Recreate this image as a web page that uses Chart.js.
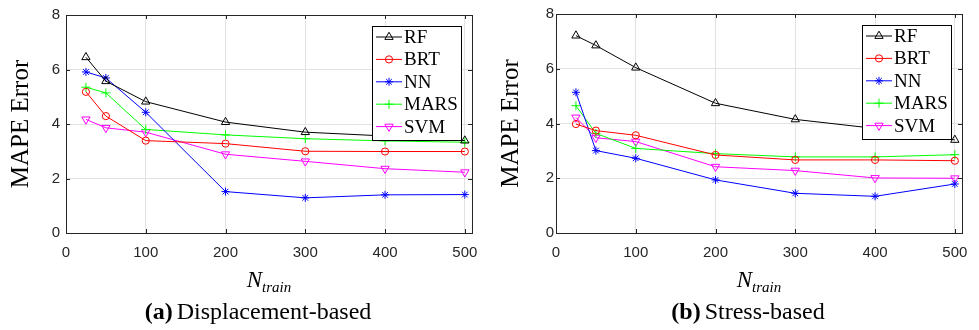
<!DOCTYPE html>
<html lang="en">
  <head>
    <meta charset="utf-8" />
    <title>MAPE Error vs N_train</title>
    <style>
      body { margin: 0; background: #fff; }
      .panel { position: absolute; top: 0; height: 330px; }
      #left { left: 0; width: 490px; }
      #right { left: 490px; width: 489px; }
    </style>
  </head>
  <body>
    <div class="panel" id="left"><canvas id="dispChart" width="490" height="330"></canvas></div>
    <div class="panel" id="right"><canvas id="stressChart" width="489" height="330"></canvas></div>
    <script src="https://cdn.jsdelivr.net/npm/chart.js@4.4.1/dist/chart.umd.min.js"></script>
    <script>
      var nTrain = [25, 50, 100, 200, 300, 400, 500];
      var xTicks = [0, 100, 200, 300, 400, 500];
      var yTicks = [0, 2, 4, 6, 8];
      var methods = ["RF", "BRT", "NN", "MARS", "SVM"];

      // (a) displacement-based surrogate errors
      var dispRF = [6.45, 5.57, 4.82, 4.07, 3.70, 3.56, 3.39];
      var dispBRT = [5.18, 4.29, 3.39, 3.28, 3.00, 2.99, 2.99];
      var dispNN = [5.91, 5.69, 4.43, 1.52, 1.29, 1.40, 1.41];
      var dispMARS = [5.35, 5.14, 3.80, 3.60, 3.46, 3.38, 3.33];
      var dispSVM = [4.17, 3.86, 3.70, 2.89, 2.63, 2.36, 2.23];

      // (b) stress-based surrogate errors
      var stressRF = [7.21, 6.85, 6.04, 4.74, 4.15, 3.82, 3.40];
      var stressBRT = [3.98, 3.74, 3.57, 2.85, 2.67, 2.67, 2.64];
      var stressNN = [5.14, 3.01, 2.73, 1.94, 1.45, 1.34, 1.79];
      var stressMARS = [4.65, 3.64, 3.09, 2.90, 2.78, 2.78, 2.86];
      var stressSVM = [4.22, 3.48, 3.34, 2.42, 2.28, 2.01, 2.00];

      var lineColors = ["#000000", "#ff0000", "#0000ff", "#00ff00", "#ff00ff"];
      var markers = ["triangle", "circle", "star", "cross", "triangle"];
      var markerRotation = [0, 0, 0, 0, 180];
      var markerSize = [4.8, 3.6, 4, 4.5, 4.8];

      var serif = "'Liberation Serif', 'Times New Roman', serif";
      var sans = "'Liberation Sans', Arial, sans-serif";
      var axisColor = "#262626";

      function makeDatasets(series) {
        return series.map(function (values, i) {
          return {
            label: methods[i],
            data: values.map(function (v, k) { return { x: nTrain[k], y: v }; }),
            borderColor: lineColors[i],
            backgroundColor: "rgba(0,0,0,0)",
            borderWidth: 1,
            pointStyle: markers[i],
            pointRotation: markerRotation[i],
            pointRadius: markerSize[i],
            pointBorderWidth: 1,
            pointBackgroundColor: "rgba(0,0,0,0)",
            pointBorderColor: lineColors[i],
            tension: 0
          };
        });
      }

      // box, inward tick marks, legend and the text around each plot
      var decorations = {
        id: "decorations",
        afterDraw: function (chart, args, opts) {
          var ctx = chart.ctx;
          var a = chart.chartArea;
          var xs = chart.scales.x, ys = chart.scales.y;
          ctx.save();

          ctx.strokeStyle = axisColor;
          ctx.lineWidth = 1;
          ctx.strokeRect(Math.round(a.left) + 0.5, Math.round(a.top) + 0.5,
            Math.round(a.right - a.left), Math.round(a.bottom - a.top));

          ctx.beginPath();
          xTicks.forEach(function (v) {
            var px = Math.round(xs.getPixelForValue(v)) + 0.5;
            ctx.moveTo(px, a.bottom); ctx.lineTo(px, a.bottom - 4);
            ctx.moveTo(px, a.top); ctx.lineTo(px, a.top + 4);
          });
          yTicks.forEach(function (v) {
            var py = Math.round(ys.getPixelForValue(v)) + 0.5;
            ctx.moveTo(a.left, py); ctx.lineTo(a.left + 4, py);
            ctx.moveTo(a.right, py); ctx.lineTo(a.right - 4, py);
          });
          ctx.stroke();

          // legend box in the upper right corner
          var lw = 89, lh = 114;
          var lx = Math.round(a.right - 11 - lw), ly = Math.round(a.top + 11);
          ctx.fillStyle = "#fff";
          ctx.fillRect(lx, ly, lw, lh);
          ctx.strokeStyle = "#000";
          ctx.strokeRect(lx + 0.5, ly + 0.5, lw, lh);
          ctx.font = "19px " + serif;
          ctx.textBaseline = "middle";
          ctx.textAlign = "left";
          chart.data.datasets.forEach(function (ds, i) {
            var cy = ly + 11 + i * 22.4;
            ctx.strokeStyle = ds.borderColor;
            ctx.lineWidth = 1;
            ctx.beginPath();
            ctx.moveTo(lx + 4, cy); ctx.lineTo(lx + 30, cy);
            ctx.stroke();
            ctx.fillStyle = "rgba(0,0,0,0)";
            Chart.helpers.drawPoint(ctx, {
              pointStyle: ds.pointStyle,
              rotation: ds.pointRotation,
              radius: ds.pointRadius,
              borderWidth: 1
            }, lx + 17, cy);
            ctx.fillStyle = "#000";
            ctx.fillText(ds.label, lx + 32, cy + 1);
          });

          // y axis title
          ctx.fillStyle = "#000";
          ctx.save();
          ctx.translate(21, (a.top + a.bottom) / 2);
          ctx.rotate(-Math.PI / 2);
          ctx.textAlign = "center";
          ctx.textBaseline = "middle";
          ctx.font = "25px " + serif;
          ctx.fillText("MAPE Error", 0, 0);
          ctx.restore();

          // x axis title: N with subscript "train"
          var cx = (a.left + a.right) / 2;
          ctx.textBaseline = "alphabetic";
          ctx.textAlign = "left";
          ctx.font = "italic 23px " + serif;
          var wN = ctx.measureText("N").width;
          ctx.font = "italic 15px " + serif;
          var wSub = ctx.measureText("train").width;
          var sx = cx - (wN + wSub) / 2;
          ctx.font = "italic 23px " + serif;
          ctx.fillText("N", sx, 287);
          ctx.font = "italic 15px " + serif;
          ctx.fillText("train", sx + wN, 292);

          // caption
          ctx.font = "bold 24px " + serif;
          var wTag = ctx.measureText(opts.tag).width;
          ctx.font = "24px " + serif;
          var wCap = ctx.measureText(opts.caption).width;
          var capX = 258 - (wTag + 4 + wCap) / 2;
          ctx.font = "bold 24px " + serif;
          ctx.fillText(opts.tag, capX, 319);
          ctx.font = "24px " + serif;
          ctx.fillText(opts.caption, capX + wTag + 4, 319);

          ctx.restore();
        }
      };

      function createChart(canvasId, series, tag, caption, rightPad, yPad) {
        var ctx = document.getElementById(canvasId).getContext("2d");
        return new Chart(ctx, {
          type: "line",
          data: { datasets: makeDatasets(series) },
          plugins: [decorations],
          options: {
            responsive: false,
            animation: false,
            layout: { padding: { top: 14, right: rightPad, left: 0, bottom: 0 } },
            plugins: {
              legend: { display: false },
              tooltip: { enabled: false },
              decorations: { tag: tag, caption: caption }
            },
            scales: {
              x: {
                type: "linear",
                min: 0,
                max: 509,
                afterBuildTicks: function (scale) {
                  scale.ticks = xTicks.map(function (v) { return { value: v }; });
                },
                afterFit: function (scale) { scale.height = 97; },
                grid: { color: "#e2e2e2", drawTicks: false },
                border: { display: false },
                ticks: {
                  padding: 11,
                  maxRotation: 0,
                  color: axisColor,
                  font: { family: sans, size: 15 }
                }
              },
              y: {
                type: "linear",
                min: 0,
                max: 8,
                afterBuildTicks: function (scale) {
                  scale.ticks = yTicks.map(function (v) { return { value: v }; });
                },
                afterFit: function (scale) { scale.width = 66; },
                grid: { color: "#e2e2e2", drawTicks: false },
                border: { display: false },
                ticks: {
                  padding: yPad,
                  color: axisColor,
                  font: { family: sans, size: 15 }
                }
              }
            }
          }
        });
      }

      createChart("dispChart", [dispRF, dispBRT, dispNN, dispMARS, dispSVM],
        "(a)", "Displacement-based", 18, 6);
      createChart("stressChart", [stressRF, stressBRT, stressNN, stressMARS, stressSVM],
        "(b)", "Stress-based", 17, 2);
    </script>
  </body>
</html>
